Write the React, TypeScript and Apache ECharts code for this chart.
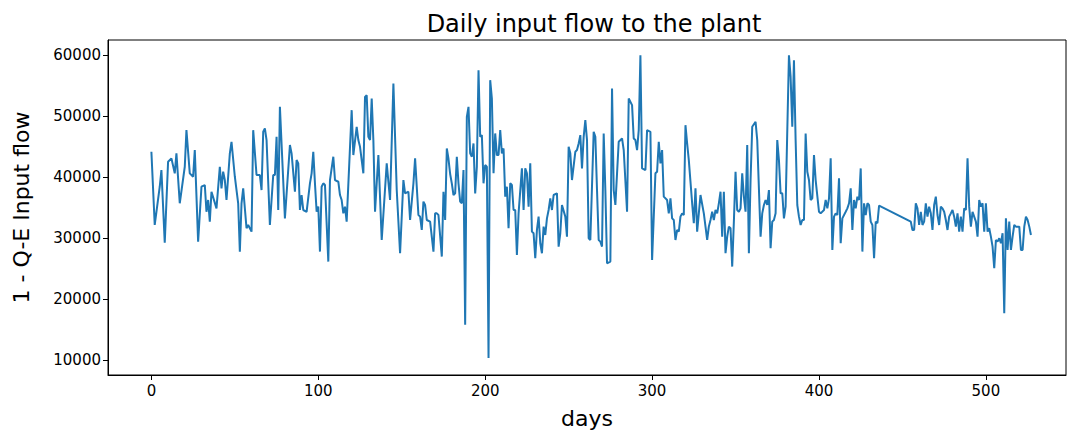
import React, { useEffect, useRef } from "react";
import * as echarts from "echarts";

const days = [
  0, 2, 5, 6, 8, 10, 12, 14, 15, 17, 20, 21, 23, 25, 26, 28, 30, 32, 33, 34, 35, 36, 39, 41,
  42, 43, 44, 45, 47, 48, 50, 52, 53, 54, 55, 57, 58, 60, 61, 63, 65, 66, 67, 68, 69, 71, 73, 74,
  75, 76, 77, 80, 83, 84, 86, 87, 88, 89, 90, 91, 93, 95, 96, 97, 98, 99, 100, 101, 102, 103, 104,
  106, 107, 109, 110, 112, 113, 114, 115, 116, 117, 120, 121, 123, 124, 125, 127, 128, 129, 130,
  131, 132, 133, 134, 136, 138, 141, 143, 145, 147, 149, 151, 152, 154, 155, 157, 158, 160, 161,
  162, 163, 164, 165, 167, 169, 170, 171, 172, 174, 175, 176, 177, 178, 179, 180, 181, 182, 183,
  184, 185, 186, 187, 188, 189, 190, 191, 192, 193, 194, 195, 196, 197, 198, 199, 200, 201, 202,
  203, 204, 205, 206, 207, 208, 209, 210, 211, 212, 213, 214, 215, 216, 217, 218, 219, 220, 222,
  223, 224, 225, 226, 227, 228, 229, 230, 231, 232, 233, 234, 235, 236, 237, 238, 239, 240, 241,
  243, 244, 245, 246, 248, 249, 250, 251, 252, 254, 255, 256, 257, 258, 259, 260, 261, 262, 263,
  265, 266, 267, 268, 269, 270, 271, 272, 273, 275, 276, 277, 278, 279, 280, 282, 283, 285, 286,
  288, 289, 290, 291, 292, 293, 294, 296, 297, 299, 300, 302, 303, 304, 305, 306, 307, 309, 310,
  311, 312, 313, 314, 315, 316, 317, 318, 319, 320, 321, 322, 324, 325, 326, 327, 328, 329, 331,
  333, 334, 335, 336, 337, 338, 339, 340, 341, 342, 343, 344, 345, 346, 347, 348, 349, 350, 351,
  352, 353, 354, 355, 356, 357, 358, 359, 360, 362, 363, 365, 366, 367, 368, 369, 370, 371, 372,
  373, 374, 375, 376, 377, 378, 379, 380, 382, 383, 384, 385, 386, 387, 388, 389, 390, 391, 392,
  393, 394, 395, 396, 397, 398, 400, 401, 403, 404, 405, 406, 407, 408, 409, 410, 411, 412, 413,
  414, 416, 417, 418, 419, 420, 421, 422, 423, 424, 425, 426, 427, 428, 429, 430, 431, 432, 433,
  434, 435, 436, 455, 456, 457, 458, 459, 460, 461, 462, 463, 464, 465, 466, 467, 468, 469, 470,
  471, 472, 473, 474, 475, 476, 477, 478, 479, 480, 481, 482, 483, 484, 485, 486, 487, 488, 489,
  490, 491, 492, 494, 495, 496, 497, 498, 499, 500, 501, 502, 503, 504, 505, 506, 507, 508, 509,
  510, 511, 512, 513, 514, 515, 516, 517, 518, 520, 521, 522, 523, 524, 525, 526, 527,
];

const flow = [
  44150, 32130, 38410, 41150, 29230, 42510, 43070, 40610, 43890, 35690, 41690, 47700, 40610, 40050,
  44430, 29400, 38410, 38690, 34300, 36230, 32680, 37590, 34860, 41690,
  38150, 40880, 39510, 36230, 43890, 45790, 40050, 35690, 27760, 35690, 38150, 31590, 32130, 31040,
  47700, 40330, 40330, 37870, 47430, 47980, 46070, 32130, 40330, 40330,
  46610, 34590, 51530, 33220, 45250, 43890, 37590, 42790, 42250, 34590, 37050, 34590, 34300, 38970,
  40610, 44150, 38970, 34300, 35140, 27760, 38410, 38970, 38690,
  26120, 39510, 43340, 39510, 39230, 37050, 36230, 34040, 35140, 32680, 50980, 43610, 48250, 46070,
  44970, 40610, 53160, 53440, 46610,
  46070, 52900, 46070, 34300, 43610, 29670, 42250, 36230, 55360, 37870, 27490, 39510, 37320, 37590,
  32950, 38970, 43070, 33770, 33500,
  31310, 35960, 35410, 32950, 32680, 27760, 34040, 34040, 33770, 26940, 37590, 32950, 44700, 43000,
  40500, 38970, 37050, 37320, 43340,
  38970, 35960, 35690, 41150, 15740, 49890, 51530, 43890, 43340, 45520, 37320, 41690, 57540, 46610,
  46890, 38970, 41970, 41690, 10280,
  55900, 52900, 40610, 47160, 43610, 43610, 47700, 43890, 44700, 36780, 38410, 31590, 38970, 38690,
  34590, 34590, 27220, 34040, 41420,
  34590, 41420, 40610, 35140, 42250, 31040, 30770, 26670, 31310, 33500, 29130, 27490, 31860, 30490,
  33220, 34590, 36510, 34590, 37050,
  37320, 28580, 30770, 35410, 33500, 30220, 44970, 43890, 39510, 44150, 44430, 45520, 46890, 41420,
  46610, 49340, 46070, 29950, 29670,
  47430, 46610, 37870, 29670, 29400, 28580, 47160, 37870, 25850, 26120, 54540, 37870, 35410, 40610,
  45790, 46340, 44430, 34300, 52900,
  51800, 46340, 46070, 44430, 47700, 60000, 41420, 41150, 47700, 47430, 26390, 40610, 40880, 45790,
  42250, 44430, 36780, 36230, 34040,
  36510, 33220, 32950, 29670, 31310, 31040, 33500, 34040, 33770, 48520, 45520, 42790, 35690, 32410,
  38150, 31040, 34040, 37050, 34040,
  29670, 31860, 32950, 34300, 32950, 34590, 34040, 35690, 37590, 30220, 37590, 27490, 30220, 31860,
  31590, 25300, 32680, 40880, 34590,
  34300, 34860, 40610, 36780, 34300, 45250, 27490, 39510, 48250, 49070, 46070, 30220, 34040, 35410,
  36230, 35410, 37870, 28310, 32680,
  32950, 34040, 46070, 42790, 37320, 37320, 33220, 35140, 60000, 56440, 48250, 59180, 46070, 35410,
  33500, 32130, 32950, 32950, 47160,
  40880, 39510, 36230, 36510, 43610, 39510, 34300, 34040, 34590, 36230, 34860, 36510, 43070, 28030,
  33500, 34040, 33770, 39790, 29130,
  33220, 34300, 34860, 35690, 38150, 31310, 36230, 34860, 36780, 36230, 41420, 27760, 35690, 33770,
  35690, 35410, 32680, 32130, 26670,
  32680, 32410, 35300, 32680, 31310, 31310, 35690, 34860, 32130, 34300, 32130, 32680, 35690, 33500,
  35140, 34040, 31310, 35410, 36780,
  33770, 32130, 35140, 34860, 34300, 32950, 31310, 33500, 34040, 34590, 33500, 31860, 34040, 31040,
  33500, 31040, 34860, 34590, 43070,
  35140, 31860, 34300, 32680, 30220, 36230, 35140, 35690, 31040, 35690, 31040, 31590, 30220, 28580,
  25030, 29670, 29400, 29950, 29130,
  30770, 17650, 33220, 28030, 32680, 28030, 30220, 32130, 31860, 31860, 28030, 28030, 31860, 33500,
  32950, 31860, 30490,
];

const xTicks = [0, 100, 200, 300, 400, 500];
const yTicks = [10000, 20000, 30000, 40000, 50000, 60000];

export default function App() {
  const ref = useRef<HTMLDivElement>(null);
  useEffect(() => {
    const chart = echarts.init(ref.current!, null, { renderer: "svg" });
    const font = "DejaVu Sans";
    chart.setOption({
      animation: false,
      backgroundColor: "#ffffff",
      title: {
        text: "Daily input flow to the plant",
        left: 589,
        top: 7,
        textAlign: "center",
        textStyle: { fontFamily: font, fontSize: 24, fontWeight: "normal", color: "#000" },
      },
      grid: {
        left: 108,
        right: 1,
        top: 40,
        bottom: 57,
        show: true,
        borderColor: "#000",
        borderWidth: 1,
        backgroundColor: "transparent",
        containLabel: false,
        outerBoundsMode: "none",
      },
      xAxis: {
        type: "value",
        min: -26,
        max: 548,
        name: "days",
        nameLocation: "middle",
        nameGap: 32,
        nameTextStyle: { fontFamily: font, fontSize: 22, color: "#000" },
        splitLine: { show: false },
        axisLine: { show: true, onZero: false, lineStyle: { color: "#000", width: 1 } },
        axisTick: {
          show: true,
          length: 5,
          inside: false,
          customValues: xTicks,
          lineStyle: { color: "#000" },
        },
        axisLabel: {
          customValues: xTicks,
          fontFamily: font,
          fontSize: 15,
          color: "#000",
          margin: 8,
          formatter: (v: number) => String(v),
        },
      },
      yAxis: {
        type: "value",
        min: 7500,
        max: 62500,
        name: "1 - Q-E Input flow",
        nameLocation: "middle",
        nameGap: 76,
        nameRotate: 90,
        nameTextStyle: { fontFamily: font, fontSize: 22, color: "#000" },
        splitLine: { show: false },
        axisLine: { show: true, onZero: false, lineStyle: { color: "#000", width: 1 } },
        axisTick: {
          show: true,
          length: 5,
          inside: false,
          customValues: yTicks,
          lineStyle: { color: "#000" },
        },
        axisLabel: {
          customValues: yTicks,
          fontFamily: font,
          fontSize: 15,
          color: "#000",
          margin: 7,
          formatter: (v: number) => String(v),
        },
      },
      series: [
        {
          type: "line",
          data: days.map((d, i) => [d, flow[i]]),
          showSymbol: false,
          symbol: "none",
          lineStyle: { color: "#1f77b4", width: 2 },
          itemStyle: { color: "#1f77b4" },
        },
      ],
    });
    return () => chart.dispose();
  }, []);
  return (
    <div
      ref={ref}
      style={{ position: "fixed", left: 0, top: 0, width: 1067, height: 432, background: "#fff" }}
    />
  );
}
